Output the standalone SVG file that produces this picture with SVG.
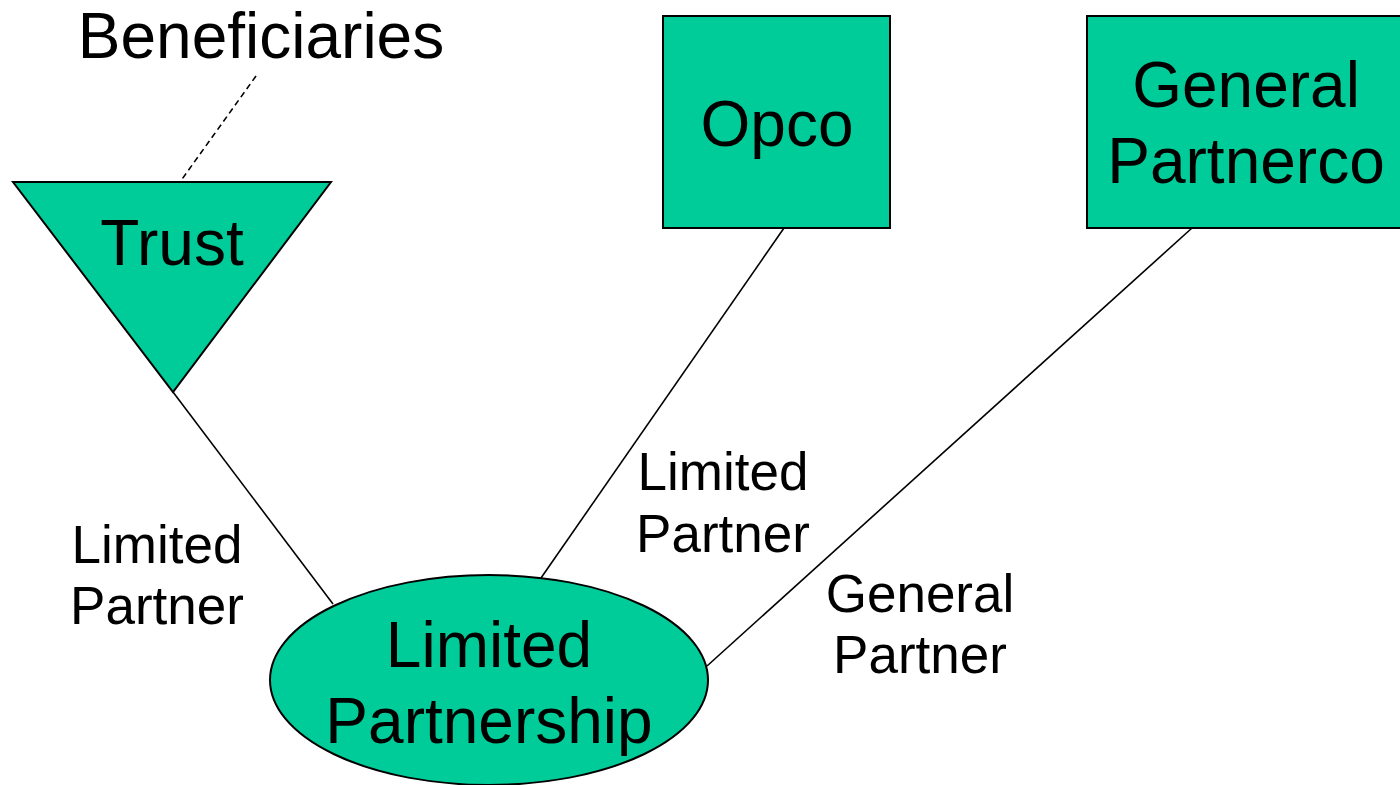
<svg xmlns="http://www.w3.org/2000/svg" width="1400" height="785" viewBox="0 0 1400 785">
<style>
.shape{fill:#00CC99;stroke:#000;stroke-width:2}
.big{font-family:"Liberation Sans",Arial,sans-serif;font-size:64px;fill:#000;text-anchor:middle}
.lbl{font-family:"Liberation Sans",Arial,sans-serif;font-size:53px;fill:#000;text-anchor:middle}
.conn line{stroke:#000;stroke-width:1.6}
</style>
<rect width="1400" height="785" fill="#fff"/>
<g id="connectors" class="conn">
<line x1="256" y1="76" x2="180" y2="182" stroke-dasharray="6,4" stroke-width="1.8"/>
<line x1="173" y1="392" x2="333" y2="604"/>
<line x1="784" y1="228" x2="541" y2="578"/>
<line x1="1192" y1="228" x2="707" y2="666"/>
</g>
<g id="beneficiaries">
<text class="big" x="261" y="58">Beneficiaries</text>
</g>
<g id="trust">
<polygon class="shape" points="13,182 331,182 173,392"/>
<text class="big" x="172" y="265">Trust</text>
</g>
<g id="opco">
<rect class="shape" x="663" y="16" width="227" height="212"/>
<text class="big" x="777" y="146">Opco</text>
</g>
<g id="general-partnerco">
<rect class="shape" x="1087" y="16" width="320" height="212"/>
<text class="big" x="1246" y="107">General</text>
<text class="big" x="1246" y="183">Partnerco</text>
</g>
<g id="limited-partnership">
<ellipse class="shape" cx="489" cy="680" rx="219" ry="105"/>
<text class="big" x="489" y="667">Limited</text>
<text class="big" x="489" y="743">Partnership</text>
</g>
<g id="labels">
<text class="lbl" x="157" y="563">Limited</text>
<text class="lbl" x="157" y="624">Partner</text>
<text class="lbl" x="723" y="490">Limited</text>
<text class="lbl" x="723" y="552">Partner</text>
<text class="lbl" x="920" y="612">General</text>
<text class="lbl" x="920" y="673">Partner</text>
</g>
</svg>
